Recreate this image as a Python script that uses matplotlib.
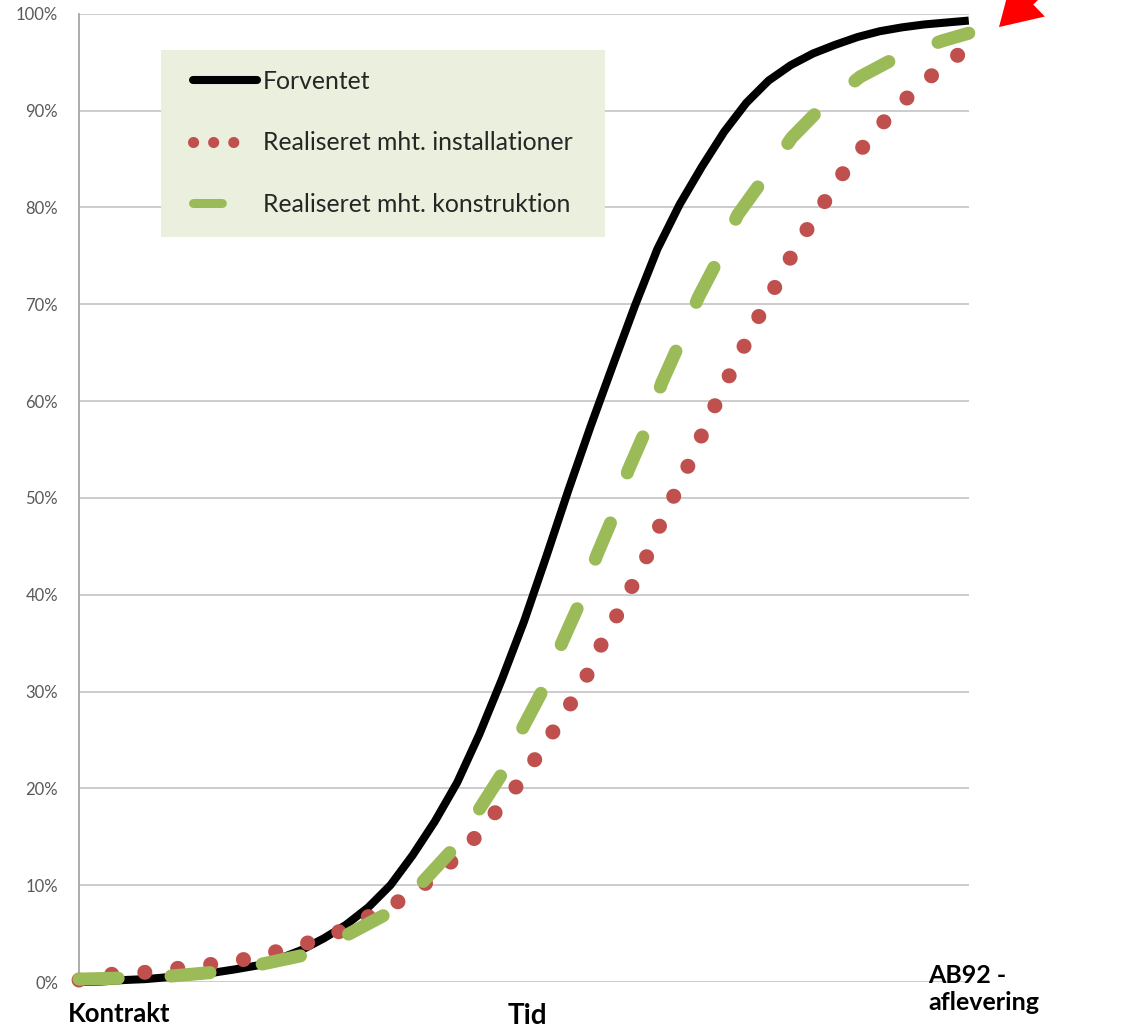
from matplotlib import pyplot as plt
from matplotlib.lines import Line2D
from matplotlib.patches import Rectangle
from matplotlib.ticker import FixedLocator, FuncFormatter
import numpy as np

# Progress curves, time axis 0..100 (Kontrakt -> AB92 aflevering), values in %
Forventet_t = [0, 2.5, 5, 7.5, 10, 12.5, 15, 17.5, 20, 22.5, 25, 27.5, 30, 32.5, 35, 37.5,
               40, 42.5, 45, 47.5, 50, 52.5, 55, 57.5, 60, 62.5, 65, 67.5, 70, 72.5, 75,
               77.5, 80, 82.5, 85, 87.5, 90, 92.5, 95, 97.5, 100]
Forventet = [0, 0.05, 0.2, 0.3, 0.5, 0.7, 0.95, 1.3, 1.7, 2.4, 3.3, 4.5, 5.9, 7.7, 10.0, 13.1,
             16.6, 20.6, 25.6, 31.2, 37.2, 43.9, 50.8, 57.4, 63.7, 69.9, 75.7, 80.3, 84.2, 87.8, 90.8,
             93.1, 94.7, 95.9, 96.8, 97.6, 98.2, 98.6, 98.9, 99.1, 99.3]

Install_t = [0, 3.7, 7.4, 11.0, 14.7, 18.4, 22.0, 25.6, 29.0, 32.4, 35.7, 38.7, 41.7, 44.3,
             46.6, 49.0, 51.1, 53.1, 55.1, 57.0, 58.5, 60.3, 62.0, 63.6, 65.1, 66.7, 68.3,
             69.8, 71.3, 72.9, 74.6, 76.2, 78.0, 79.7, 81.6, 83.6, 85.6, 87.8, 90.1, 92.7,
             95.4, 98.3, 100]
Install = [0.2, 0.8, 1.0, 1.4, 1.8, 2.3, 3.1, 4.0, 5.1, 6.7, 8.2, 10.0, 12.3, 14.7,
           17.3, 20.0, 22.8, 25.6, 28.5, 31.5, 34.5, 37.6, 40.6, 43.5, 46.8, 49.9, 53.0,
           56.1, 59.2, 62.3, 65.4, 68.4, 71.4, 74.4, 77.4, 80.3, 83.2, 85.9, 88.5, 91.0,
           93.3, 95.4, 96.6]

Konstr_t = [0, 4.9, 10.2, 15.1, 20.3, 25.4, 30.2, 34.7, 38.5, 41.9, 45.1, 47.6, 49.9, 52.2,
            54.3, 56.2, 58.2, 60.0, 61.7, 63.6, 65.5, 67.4, 69.6, 71.7, 74.0, 76.9, 80.1,
            83.3, 87.8, 91.9, 97.0, 100]
Konstr = [0.3, 0.4, 0.6, 1.0, 1.8, 2.8, 4.9, 7.1, 10.2, 13.6, 18.0, 21.6, 26.3, 30.3,
          35.1, 39.0, 44.1, 48.0, 52.8, 56.8, 61.9, 65.8, 70.7, 74.4, 79.2, 82.9, 87.2,
          90.2, 93.5, 95.5, 97.2, 98.0]

Labels = ["Forventet", "Realiseret mht. installationer", "Realiseret mht. konstruktion"]
Y_ticks = list(range(0, 101, 10))

col_black = 'black'
col_red = '#C0504D'
col_green = '#9BBB59'

plt.rcParams['font.family'] = ['Lato', 'DejaVu Sans']

fig = plt.figure(figsize=(11.32, 10.30), dpi=100)
ax = fig.add_axes([0.0698, 0.0466, 0.786, 0.94])

ax.plot(Forventet_t, Forventet, color=col_black, lw=5.8, solid_capstyle='butt',
        solid_joinstyle='round', clip_on=False, zorder=3)
ax.plot(Install_t, Install, color=col_red, lw=10.8, ls=(0, (0.01, 2.2)),
        dash_capstyle='round', clip_on=False, zorder=4)
ax.plot(Konstr_t, Konstr, color=col_green, lw=9.4, ls=(0, (3.0, 4.05)),
        dash_capstyle='round', dash_joinstyle='round', clip_on=False, zorder=5)

ax.set_xlim(0, 100)
ax.set_ylim(0, 100)
ax.yaxis.set_major_locator(FixedLocator(Y_ticks))
ax.yaxis.set_major_formatter(FuncFormatter(lambda v, p: "{:d}%".format(int(v))))
ax.set_xticks([])
ax.tick_params(axis='y', length=0, pad=15, labelsize=12, labelcolor='#595959')
ax.grid(axis='y', color='#C8C8C8', lw=1.3)
ax.set_axisbelow(True)
for s in ['top', 'right', 'bottom']:
    ax.spines[s].set_visible(False)
ax.spines['left'].set_color('#A6A6A6')
ax.spines['left'].set_linewidth(1.3)

# legend background box, legend itself drawn without frame on top
ax.add_patch(Rectangle((0.0921, 0.7696), 0.4989, 0.1932, transform=ax.transAxes,
                       facecolor='#EBF0DE', edgecolor='none', zorder=6))

# legend keys drawn smaller than the curves themselves
handles = [
    Line2D([], [], color=col_black, lw=5.8, solid_capstyle='round'),
    Line2D([], [], color=col_red, lw=8, ls=(0, (0.01, 1.8, 0.01, 1.8, 0.01, 20)),
           dash_capstyle='round'),
    Line2D([], [], color=col_green, lw=6.5, ls=(0, (3.2, 20)), dash_capstyle='round'),
]
leg = ax.legend(handles, Labels, loc='upper left', bbox_to_anchor=(0.1281, 0.9419),
                fontsize=17.8, frameon=False, handlelength=2.6,
                handletextpad=0.22, labelspacing=1.55, borderpad=0, borderaxespad=0)
leg.set_zorder(7)
for t in leg.get_texts():
    t.set_color('#262626')

fig.text(68 / 1132, 1 - 1014 / 1030, "Kontrakt", fontsize=18.5, fontweight='bold',
         ha='left', va='center')
fig.text(527 / 1132, 1 - 1016 / 1030, "Tid", fontsize=20, fontweight='bold',
         ha='center', va='center')
fig.text(928 / 1132, 1 - 989 / 1030, "AB92 -\naflevering", fontsize=18, fontweight='bold',
         ha='left', va='center', linespacing=1.25)

# red pointer at the end of the curves
ax_arrow = fig.add_axes([0, 0, 1, 1], facecolor='none')
ax_arrow.set_axis_off()
ax_arrow.set_xlim(0, 1132)
ax_arrow.set_ylim(1030, 0)
ax_arrow.annotate("", xy=(997, 29), xytext=(1058, -30),
                  arrowprops=dict(arrowstyle='simple,head_length=1.45,head_width=1.75,tail_width=0.55',
                                  color='#FF0000', lw=0, mutation_scale=20))

plt.savefig('out.png', dpi=100)
